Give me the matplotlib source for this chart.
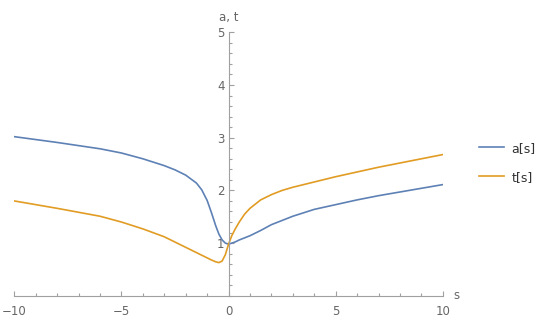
import numpy as np
import matplotlib.pyplot as plt
from matplotlib.ticker import MultipleLocator

# values
s = [-10, -8, -6, -5, -4, -3, -2.5, -2, -1.5, -1.25, -1, -0.8, -0.6, -0.45, -0.3,
     -0.15, 0, 0.15, 0.3, 0.5, 0.75, 1, 1.5, 2, 2.5, 3, 4, 5, 6, 7, 8, 9, 10]
a_vals = [3.02, 2.91, 2.79, 2.71, 2.60, 2.47, 2.39, 2.29, 2.14, 2.01, 1.81, 1.58,
          1.33, 1.17, 1.06, 1.00, 0.98, 1.00, 1.02, 1.06, 1.10, 1.14, 1.24, 1.35,
          1.43, 1.51, 1.64, 1.73, 1.82, 1.90, 1.97, 2.04, 2.11]
t_vals = [1.80, 1.66, 1.51, 1.40, 1.27, 1.12, 1.02, 0.92, 0.82, 0.77, 0.72, 0.68,
          0.645, 0.63, 0.66, 0.78, 0.98, 1.14, 1.26, 1.40, 1.55, 1.66, 1.82, 1.92,
          2.00, 2.06, 2.16, 2.26, 2.35, 2.44, 2.52, 2.60, 2.68]
labels = ["a[s]", "t[s]"]
colors = ["#5E81B5", "#E19C24"]

fig = plt.figure(figsize=(5.4, 3.19), dpi=100)
ax = fig.add_axes([0.0265, 0.0727, 0.7935, 0.826])

ax.plot(s, a_vals, color=colors[0], lw=1.2, label=labels[0])
ax.plot(s, t_vals, color=colors[1], lw=1.2, label=labels[1])

ax.set_xlim(-10, 10)
ax.set_ylim(0, 5)

axis_col = "#a0a0a0"
ax.spines["left"].set_position(("data", 0))
ax.spines["bottom"].set_position(("data", 0))
ax.spines["top"].set_visible(False)
ax.spines["right"].set_visible(False)
for sp in ("left", "bottom"):
    ax.spines[sp].set_color(axis_col)
    ax.spines[sp].set_linewidth(0.8)

ax.set_xticks([-10, -5, 0, 5, 10])
ax.set_yticks([1, 2, 3, 4, 5])
ax.xaxis.set_minor_locator(MultipleLocator(1))
ax.yaxis.set_minor_locator(MultipleLocator(0.2))
ax.tick_params(which="both", direction="in", color=axis_col, width=0.8,
               labelcolor="#666666", labelsize=8.5)
ax.tick_params(which="major", length=3.5)
ax.tick_params(which="minor", length=2)
ax.tick_params(axis="x", pad=6.5)
ax.tick_params(axis="y", pad=3)

ax.text(10.5, 0.0, "s", color="#666666", fontsize=8.5, ha="left", va="center")
ax.text(0, 5.15, "a, t", color="#666666", fontsize=8.5, ha="center", va="bottom")

fig.legend(loc="center left", bbox_to_anchor=(0.866, 0.49), frameon=False,
           fontsize=9, handlelength=2.0, handletextpad=0.6, labelspacing=1.3,
           labelcolor="#333333")

plt.savefig("out.png")
